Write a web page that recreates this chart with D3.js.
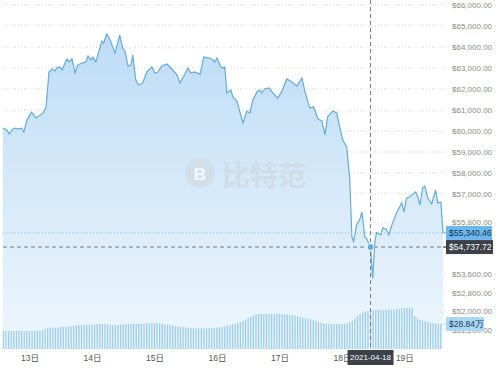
<!DOCTYPE html>
<html>
<head>
<meta charset="utf-8">
<script src="https://cdn.jsdelivr.net/npm/d3@7"></script>
<style>
    body { margin:0; background:#ffffff; }
    svg { display:block; font-family:"Liberation Sans", Arial, sans-serif; }
</style>
</head>
<body>
<svg id="chart" width="499" height="372"></svg>
<script>
// price points (time, USD)
var priceTimes = [
    "04-12 13:50","04-12 15:20","04-12 16:10","04-12 17:40","04-12 18:20","04-12 19:30","04-12 21:00","04-12 21:50","04-12 23:00",
    "04-13 00:50","04-13 02:30","04-13 05:10","04-13 06:20","04-13 07:30","04-13 08:40","04-13 09:50","04-13 10:30","04-13 11:40","04-13 12:30",
    "04-13 14:20","04-13 15:10","04-13 16:20","04-13 17:30","04-13 18:30","04-13 20:10","04-13 21:40","04-13 22:30","04-13 23:30",
    "04-14 00:20","04-14 01:30","04-14 03:50","04-14 04:30","04-14 05:40","04-14 06:50","04-14 08:50","04-14 10:40","04-14 11:50",
    "04-14 12:40","04-14 13:50","04-14 15:00","04-14 15:40","04-14 16:50","04-14 18:00","04-14 19:30","04-14 21:00","04-14 23:00",
    "04-15 00:10","04-15 01:20","04-15 02:50","04-15 04:50","04-15 06:20","04-15 08:40","04-15 09:50","04-15 11:20","04-15 12:50",
    "04-15 14:00","04-15 15:30","04-15 17:30","04-15 19:00","04-15 20:30","04-15 22:00","04-15 23:10",
    "04-16 00:00","04-16 01:30","04-16 02:20","04-16 03:00","04-16 03:50","04-16 05:20","04-16 06:10","04-16 07:40","04-16 10:00",
    "04-16 11:30","04-16 12:40","04-16 13:50","04-16 15:20","04-16 16:30","04-16 17:10","04-16 18:20","04-16 20:00","04-16 21:30","04-16 23:20",
    "04-17 00:50","04-17 02:50","04-17 04:50","04-17 06:40","04-17 08:40","04-17 09:50","04-17 11:40","04-17 13:10","04-17 14:50",
    "04-17 16:20","04-17 17:30","04-17 18:30","04-17 20:30","04-17 22:00","04-17 23:10",
    "04-18 00:20","04-18 01:50","04-18 03:00","04-18 03:50","04-18 04:30","04-18 05:40","04-18 06:50","04-18 07:40","04-18 08:50",
    "04-18 09:30","04-18 11:00","04-18 11:50","04-18 12:40","04-18 13:20","04-18 15:00","04-18 15:40","04-18 17:10","04-18 18:00",
    "04-18 19:30","04-18 21:00","04-18 23:00","04-18 23:50",
    "04-19 00:50","04-19 02:00","04-19 04:20","04-19 05:10","04-19 06:00","04-19 07:00","04-19 07:50","04-19 09:00","04-19 10:30",
    "04-19 12:00","04-19 12:50","04-19 14:00","04-19 14:50"
];
var priceValues = [
    60140,60050,59860,60100,60140,60100,60140,59950,60520,
    60900,60620,60860,61100,62810,62950,62860,63000,63050,62900,
    63430,63290,63430,62760,63140,63240,63290,63570,63380,
    63520,63290,64290,64190,64620,64380,63710,64570,63950,
    63810,63100,63140,63620,62430,62190,62290,62810,63050,
    62760,62810,63100,63190,63000,62670,62290,62620,63000,
    62760,62810,62710,63520,63480,63430,63290,
    63480,63050,63000,63050,61810,61950,61620,61430,60380,
    60950,60860,61480,61860,61950,61810,62000,62050,61810,61570,
    61860,62480,62330,62140,62520,61860,61100,61140,60570,
    60480,59810,60670,60950,60860,60190,
    59570,59240,57760,55180,54970,55690,55900,56240,55140,
    55100,54737.72,53400,54970,55350,55260,55560,55480,55260,
    55770,56200,56620,56240,
    56830,56870,57100,56870,56530,57290,57380,56830,56580,
    57190,56620,56660,55340.46
];

// hourly volume (万), first bar at 04-12 14:00
var volumeStart = "04-12 14:00";
var volumeValues = [
    20.8,20.8,20.9,20.8,20.8,20.9,20.8,20.8,20.9,20.8,20.8,20.9,20.8,21.0,21.2,21.5,
    23.5,24.2,24.2,24.4,24.5,24.8,
    25.2,25.4,25.6,25.8,26.2,26.8,
    27.2,27.5,27.7,27.7,27.9,28.0,28.2,28.4,
    28.8,29.0,29.0,28.8,28.6,
    27.8,27.6,27.7,27.8,28.0,28.3,
    28.6,28.8,28.9,29.0,29.0,28.9,29.1,29.3,29.5,29.8,
    30.0,30.2,30.1,29.8,29.2,28.6,
    28.0,27.6,27.0,26.4,
    25.9,25.5,25.2,25.0,24.7,
    24.4,24.2,24.0,23.9,23.9,24.0,24.0,24.1,24.2,24.3,24.5,
    24.9,25.4,26.0,26.8,27.6,
    28.4,29.2,30.0,31.0,32.2,
    34.0,35.8,37.2,38.6,
    39.6,40.2,40.4,40.5,40.6,40.4,40.3,40.4,40.6,40.5,40.3,40.0,39.8,39.6,
    39.2,38.8,38.0,
    37.2,36.4,35.8,35.0,
    34.2,33.5,32.4,31.2,
    30.2,29.4,29.0,28.8,28.8,28.7,28.8,28.8,28.9,29.0,29.6,30.8,
    32.6,35.0,
    38.0,40.2,41.8,43.0,
    44.0,44.6,45.0,45.0,45.1,45.2,45.0,45.1,45.3,45.4,45.6,46.0,46.4,
    47.0,47.3,47.4,47.2,46.8,
    38.0,35.4,
    33.6,32.6,32.0,31.2,
    30.4,29.8,29.4,29.0,28.84
];

var yTickValues = [66000,65000,64000,63000,62000,61000,60000,59000,58000,57000,55800,53600,52800,52000,51200];
var dayTicks = ["04-13 00:00","04-14 00:00","04-15 00:00","04-16 00:00","04-17 00:00","04-18 00:00","04-19 00:00"];
var lastPrice = 55340.46;
var crossTime = "04-18 11:00";
var crossPrice = 54737.72;
var crossDate = "2021-04-18";
var lastVolume = 28.84;

var parse = d3.timeParse("%Y-%m-%d %H:%M");
function toDate(s){ return parse("2021-" + s); }

var svg = d3.select("#chart");
var left = 3, right = 443, bottom = 349;

var points = priceTimes.map(function(t,i){ return {t: toDate(t), v: priceValues[i]}; });

var x = d3.scaleTime()
    .domain([points[0].t, points[points.length-1].t])
    .range([left, right]);

// the axis in the picture is not evenly spaced, upper and lower part differ
var y = d3.scaleLinear()
    .domain([51200, 57000, 66000])
    .range([330, 194, 5]);

var volY = d3.scaleLinear().domain([0, 60]).range([bottom, 297]);

var defs = svg.append("defs");
var grad = defs.append("linearGradient")
    .attr("id","areaGrad")
    .attr("gradientUnits","userSpaceOnUse")
    .attr("x1",0).attr("x2",0).attr("y1",30).attr("y2",bottom);
grad.append("stop").attr("offset","0%").attr("stop-color","#bddcf6");
grad.append("stop").attr("offset","55%").attr("stop-color","#d8ebf9");
grad.append("stop").attr("offset","100%").attr("stop-color","#eef6fd");

/****************************
 *        grid lines         *
 ***************************/
svg.append("g").selectAll("line.grid").data(yTickValues).enter().append("line")
    .attr("class","grid")
    .attr("x1", left).attr("x2", 447)
    .attr("y1", function(d){ return y(d); })
    .attr("y2", function(d){ return y(d); })
    .style("stroke","#d4d4d4")
    .style("stroke-dasharray","1,2");

/****************************
 *        price area         *
 ***************************/
var area = d3.area()
    .x(function(d){ return x(d.t); })
    .y0(bottom)
    .y1(function(d){ return y(d.v); });

svg.append("path")
    .datum(points)
    .attr("d", area)
    .style("fill","url(#areaGrad)");

// watermark
var wm = svg.append("g").style("opacity",0.7);
wm.append("circle").attr("cx",200).attr("cy",173).attr("r",15).style("fill","#d3dbe2");
wm.append("text").text("B")
    .attr("x",200).attr("y",174)
    .attr("text-anchor","middle").attr("dominant-baseline","central")
    .style("font-size","17px").style("font-weight","bold").style("fill","#ffffff");
wm.append("text").text("比特范")
    .attr("x",222).attr("y",174)
    .attr("dominant-baseline","central")
    .style("font-family","'Noto Sans CJK SC', sans-serif")
    .style("font-size","28px").style("font-weight","bold")
    .style("fill","#d0d8df");

/****************************
 *          volume           *
 ***************************/
var vStart = toDate(volumeStart);
svg.append("g").selectAll("rect.vol").data(volumeValues).enter().append("rect")
    .attr("class","vol")
    .attr("x", function(d,i){ return x(d3.timeHour.offset(vStart, i)) - 0.65; })
    .attr("width", 1.3)
    .attr("y", function(d){ return volY(d); })
    .attr("height", function(d){ return bottom - volY(d); })
    .style("fill","#9ccdee");

// price line
var line = d3.line()
    .x(function(d){ return x(d.t); })
    .y(function(d){ return y(d.v); });

svg.append("path")
    .datum(points)
    .attr("d", line)
    .style("fill","none")
    .style("stroke","#62abdd")
    .style("stroke-width",1.2);

// last price line
svg.append("line")
    .attr("x1", left).attr("x2", 447)
    .attr("y1", y(lastPrice)).attr("y2", y(lastPrice))
    .style("stroke","#7fbfea")
    .style("stroke-dasharray","1,2");

/****************************
 *         crosshair         *
 ***************************/
var cx = x(toDate(crossTime)), cy = y(crossPrice);
svg.append("line")
    .attr("x1", cx).attr("x2", cx).attr("y1", 0).attr("y2", bottom)
    .style("stroke","#7a7a7a").style("stroke-dasharray","4,3");
svg.append("line")
    .attr("x1", left).attr("x2", 446).attr("y1", cy).attr("y2", cy)
    .style("stroke","#7a7a7a").style("stroke-dasharray","4,3");
svg.append("circle")
    .attr("cx", cx).attr("cy", cy).attr("r", 3.5)
    .style("fill","#5aaee8").style("stroke","#ffffff").style("stroke-width",1);

/****************************
 *          y axis           *
 ***************************/
var yAxis = svg.append("g")
    .attr("transform","translate(452,0)")
    .call(d3.axisRight(y).tickValues(yTickValues).tickFormat(d3.format("$,.2f")).tickSize(0).tickPadding(0));
yAxis.select(".domain").remove();
yAxis.selectAll("text")
    .style("font-family","'Liberation Sans', Arial, sans-serif")
    .style("font-size","8px")
    .style("fill","#8a8a8a");

// label boxes on the right side
function sideLabel(yPos, txt, bg, fg, w){
    svg.append("line")
        .attr("x1", 443).attr("x2", 447).attr("y1", yPos).attr("y2", yPos)
        .style("stroke", bg);
    svg.append("rect")
        .attr("x", 446).attr("y", yPos - 7).attr("width", w).attr("height", 14)
        .style("fill", bg);
    svg.append("text").text(txt)
        .attr("x", 449).attr("y", yPos)
        .attr("dominant-baseline","central")
        .style("font-size","8.5px")
        .style("fill", fg);
}
sideLabel(volY(lastVolume), "$" + lastVolume + "万", "#a9d7f6", "#1d3c58", 38);
sideLabel(y(lastPrice), d3.format("$,.2f")(lastPrice), "#6cb7ee", "#15344f", 46);
sideLabel(cy, d3.format("$,.2f")(crossPrice), "#3b4049", "#ffffff", 47);

/****************************
 *          x axis           *
 ***************************/
var xAxis = svg.append("g")
    .attr("transform","translate(0," + bottom + ")")
    .call(d3.axisBottom(x).tickValues(dayTicks.map(toDate))
        .tickFormat(function(d){ return d.getDate() + "日"; })
        .tickSize(0).tickPadding(6));
xAxis.select(".domain").remove();
xAxis.selectAll("text")
    .style("font-family","'Liberation Sans', 'Noto Sans CJK SC', sans-serif")
    .style("font-size","8.5px")
    .style("fill","#555555");

// date tooltip under the crosshair
svg.append("rect")
    .attr("x", cx - 23).attr("y", 350).attr("width", 46).attr("height", 15)
    .style("fill","#3b4049");
svg.append("text").text(crossDate)
    .attr("x", cx).attr("y", 357.5)
    .attr("text-anchor","middle").attr("dominant-baseline","central")
    .style("font-size","8px")
    .style("fill","#ffffff");
</script>
</body>
</html>
